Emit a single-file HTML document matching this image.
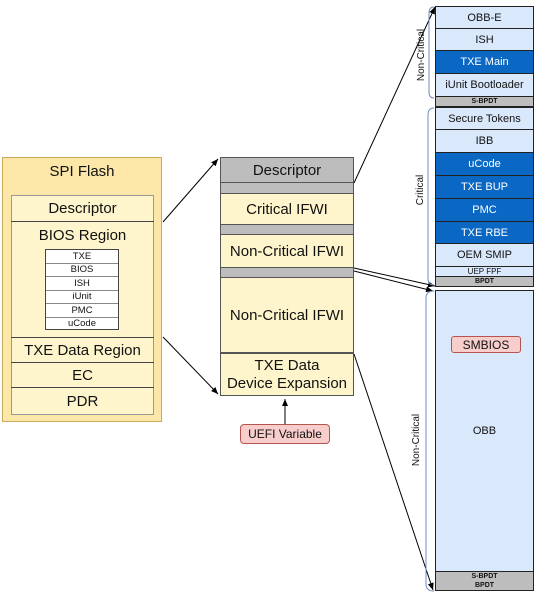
<!DOCTYPE html>
<html><head><style>
body{margin:0;width:536px;height:602px;background:#fff;position:relative;font-family:"Liberation Sans","DejaVu Sans",sans-serif;overflow:hidden}
.a{position:absolute;box-sizing:border-box;display:flex;align-items:center;justify-content:center;text-align:center;color:#111}
svg{position:absolute;left:0;top:0}
</style></head><body>
<!-- SPI flash -->
<div class="a" style="left:2px;top:157px;width:160px;height:265px;background:#fde7a8;border:1px solid #c9a95a"></div>
<div class="a" style="left:2px;top:160px;width:160px;height:22px;font-size:15px">SPI Flash</div>
<div class="a" style="left:11px;top:195px;width:143px;height:220px;background:#fff5cc;border:1px solid #999"></div>
<div class="a" style="left:11px;top:195px;width:143px;height:27px;border-bottom:1px solid #444;font-size:15px">Descriptor</div>
<div class="a" style="left:11px;top:225px;width:143px;height:20px;font-size:15px">BIOS Region</div>
<div class="a" style="left:11px;top:337px;width:143px;height:26px;border-top:1px solid #444;border-bottom:1px solid #444;font-size:15px">TXE Data Region</div>
<div class="a" style="left:11px;top:363px;width:143px;height:25px;border-bottom:1px solid #444;font-size:15px">EC</div>
<div class="a" style="left:11px;top:388px;width:143px;height:27px;font-size:15px">PDR</div>
<div style="position:absolute;left:45px;top:249px;width:74px;height:81px;background:#fff;border:1px solid #444;box-sizing:border-box;font-size:9.5px">
<div class="a" style="position:relative;height:13.5px;width:100%;border-bottom:1px solid #888">TXE</div>
<div class="a" style="position:relative;height:13.5px;width:100%;border-bottom:1px solid #888">BIOS</div>
<div class="a" style="position:relative;height:13.5px;width:100%;border-bottom:1px solid #888">ISH</div>
<div class="a" style="position:relative;height:13.5px;width:100%;border-bottom:1px solid #888">iUnit</div>
<div class="a" style="position:relative;height:13.5px;width:100%;border-bottom:1px solid #888">PMC</div>
<div class="a" style="position:relative;height:12px;width:100%">uCode</div>
</div>
<!-- middle -->
<div class="a" style="left:220px;top:157px;width:134px;height:26px;background:#bdbdbd;border:1px solid #555;font-size:15px">Descriptor</div>
<div class="a" style="left:220px;top:183px;width:134px;height:11px;background:#bdbdbd;border:1px solid #555;border-top:none"></div>
<div class="a" style="left:220px;top:194px;width:134px;height:31px;background:#fff5cc;border:1px solid #555;border-top:none;font-size:15px">Critical IFWI</div>
<div class="a" style="left:220px;top:225px;width:134px;height:10px;background:#bdbdbd;border:1px solid #555;border-top:none"></div>
<div class="a" style="left:220px;top:235px;width:134px;height:33px;background:#fff5cc;border:1px solid #555;border-top:none;font-size:15px">Non-Critical IFWI</div>
<div class="a" style="left:220px;top:268px;width:134px;height:10px;background:#bdbdbd;border:1px solid #555;border-top:none"></div>
<div class="a" style="left:220px;top:278px;width:134px;height:75px;background:#fff5cc;border:1px solid #555;border-top:none;font-size:15px">Non-Critical IFWI</div>
<div class="a" style="left:220px;top:353px;width:134px;height:43px;background:#fff5cc;border:1px solid #555;font-size:15px;line-height:18px">TXE Data<br>Device Expansion</div>
<div class="a" style="left:240px;top:424px;width:90px;height:20px;background:#f8cecc;border:1px solid #b85450;border-radius:4px;font-size:12px">UEFI Variable</div>
<!-- right -->
<div style="position:absolute;left:435px;top:6px;width:99px;font-size:11px">
<div class="a" style="position:relative;width:100%;height:23px;background:#dae8fc;border:1px solid #222">OBB-E</div>
<div class="a" style="position:relative;width:100%;height:22px;background:#dae8fc;border:1px solid #222;border-top:none">ISH</div>
<div class="a" style="position:relative;width:100%;height:23px;background:#0a68c4;color:#fff;border:1px solid #222;border-top:none">TXE Main</div>
<div class="a" style="position:relative;width:100%;height:23px;background:#dae8fc;border:1px solid #222;border-top:none">iUnit Bootloader</div>
<div class="a" style="position:relative;width:100%;height:10px;background:#bdbdbd;border:1px solid #222;border-top:none;font-size:7px;font-weight:bold">S-BPDT</div>
</div>
<div style="position:absolute;left:435px;top:107px;width:99px;font-size:11px">
<div class="a" style="position:relative;width:100%;height:23px;background:#dae8fc;border:1px solid #222">Secure Tokens</div>
<div class="a" style="position:relative;width:100%;height:23px;background:#dae8fc;border:1px solid #222;border-top:none">IBB</div>
<div class="a" style="position:relative;width:100%;height:23px;background:#0a68c4;color:#fff;border:1px solid #222;border-top:none">uCode</div>
<div class="a" style="position:relative;width:100%;height:23px;background:#0a68c4;color:#fff;border:1px solid #222;border-top:none">TXE BUP</div>
<div class="a" style="position:relative;width:100%;height:23px;background:#0a68c4;color:#fff;border:1px solid #222;border-top:none">PMC</div>
<div class="a" style="position:relative;width:100%;height:22px;background:#0a68c4;color:#fff;border:1px solid #222;border-top:none">TXE RBE</div>
<div class="a" style="position:relative;width:100%;height:23px;background:#dae8fc;border:1px solid #222;border-top:none">OEM SMIP</div>
<div class="a" style="position:relative;width:100%;height:10px;background:#dae8fc;border:1px solid #222;border-top:none;font-size:8px">UEP FPF</div>
<div class="a" style="position:relative;width:100%;height:10px;background:#bdbdbd;border:1px solid #222;border-top:none;font-size:7px;font-weight:bold">BPDT</div>
</div>
<div class="a" style="left:435px;top:290px;width:99px;height:282px;background:#dae8fc;border:1px solid #222;font-size:11px">OBB</div>
<div class="a" style="left:435px;top:571px;width:99px;height:11px;background:#bdbdbd;border:1px solid #222;font-size:7px;font-weight:bold">S-BPDT</div>
<div class="a" style="left:435px;top:581px;width:99px;height:10px;background:#bdbdbd;border:1px solid #222;border-top:none;font-size:7px;font-weight:bold">BPDT</div>
<div class="a" style="left:451px;top:336px;width:70px;height:17px;background:#f8cecc;border:1px solid #b85450;border-radius:3px;font-size:12px">SMBIOS</div>
<svg width="536" height="602">
<defs><marker id="m" markerWidth="8" markerHeight="8" refX="7" refY="4" orient="auto"><path d="M0,1 L7,4 L0,7z" fill="#000"/></marker></defs>
<g stroke="#000" stroke-width="1" fill="none" marker-end="url(#m)">
<line x1="163" y1="222" x2="218" y2="159"/>
<line x1="163" y1="337" x2="218" y2="394"/>
<line x1="285" y1="424" x2="285" y2="399"/>
<line x1="354" y1="183" x2="435" y2="7"/>
<line x1="354" y1="268" x2="435" y2="286"/>
<line x1="354" y1="271" x2="433" y2="291"/>
<line x1="354" y1="354" x2="433" y2="590"/>
</g>
<g stroke="#6c8ebf" stroke-width="1" fill="none">
<path d="M434,7 Q429,7 429,13 L429,92 Q429,98 434,98"/>
<path d="M434,108 Q428,108 428,115 L428,278 Q428,285 434,285"/>
<path d="M434,291 Q426,291 426,298 L426,584 Q426,591 434,591"/>
</g>
<g font-size="10" fill="#111" font-family="Liberation Sans, sans-serif" text-anchor="middle">
<text transform="translate(424,55) rotate(-90)">Non-Critical</text>
<text transform="translate(423,190) rotate(-90)">Critical</text>
<text transform="translate(419,440) rotate(-90)">Non-Critical</text>
</g>
</svg>
</body></html>
